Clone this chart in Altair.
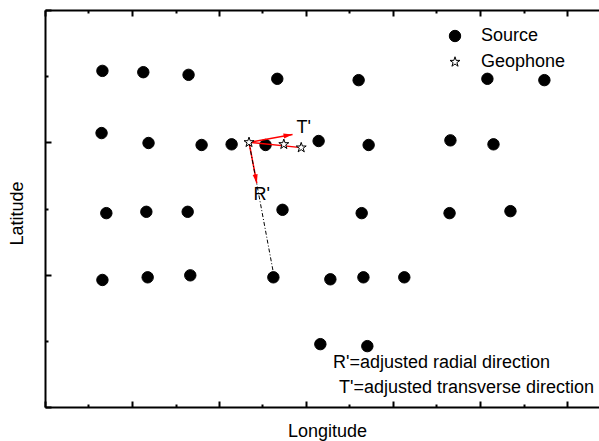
import math
import altair as alt
import pandas as pd

# ---------------- data ----------------
src_lon = [1.32, 2.26, 3.30, 5.34, 7.21, 10.17, 11.48,
           1.30, 2.38, 3.60, 4.29, 5.07, 6.29, 7.44, 9.32, 10.31,
           1.41, 2.33, 3.28, 5.46, 7.28, 9.30, 10.70,
           1.32, 2.36, 3.34, 5.25, 6.56, 7.32, 8.26,
           6.33, 7.41]
src_lat = [5.08, 5.06, 5.02, 4.96, 4.94, 4.96, 4.94,
           4.14, 3.99, 3.96, 3.97, 3.96, 4.02, 3.96, 4.03, 3.97,
           2.93, 2.95, 2.95, 2.98, 2.93, 2.93, 2.96,
           1.92, 1.96, 1.99, 1.96, 1.93, 1.96, 1.96,
           0.95, 0.92]
geo_lon = [4.69, 5.49, 5.89]
geo_lat = [4.00, 3.97, 3.92]

# red direction segments (start -> end)
red_x = [4.69, 4.69, 4.69]
red_y = [4.00, 4.00, 4.00]
red_x2 = [5.69, 5.89, 4.87]
red_y2 = [4.12, 3.92, 3.38]
red_head = [True, False, True]

# black dash-dot ray: geophone -> source
ray_x, ray_y, ray_x2, ray_y2 = [4.69], [4.00], [5.25], [2.03]

dir_labels = ["T'", "R'"]
dir_lon = [5.95, 4.98]
dir_lat = [4.21, 3.20]

notes = ["R'=adjusted radial direction", "T'=adjusted transverse direction"]
note_lon = [6.62, 6.76]
note_lat = [0.665, 0.29]

kinds = ["Source", "Geophone"]

x_major = [0, 2, 4, 6, 8, 10, 12]
x_minor = [1, 3, 5, 7, 9, 11]
y_major = [0, 2, 4, 6]
y_minor = [1, 3, 5]

# ---------------- layout ----------------
W, H = 554, 397
PX_X = 43.5
XMAX = W / PX_X
YMAX = 6
PX_Y = H / YMAX
FONT = "Liberation Sans"
FS = 18

STAR = ("M0,-1L0.2245,-0.309L0.951,-0.309L0.363,0.118L0.588,0.809L0,0.382"
        "L-0.588,0.809L-0.363,0.118L-0.951,-0.309L-0.2245,-0.309Z")
HEAD = "M0,0L-3.6,-1L-3.6,1Z"

xs = alt.Scale(domain=[0, XMAX], nice=False, zero=False)
ys = alt.Scale(domain=[0, YMAX], nice=False, zero=False)
shape_scale = alt.Scale(domain=kinds, range=["circle", STAR])
fill_scale = alt.Scale(domain=kinds, range=["black", "white"])
stroke_scale = alt.Scale(domain=kinds, range=["black", "black"])
size_scale = alt.Scale(domain=kinds, range=[130, 110])


def ax(**kw):
    base = dict(labels=False, grid=False, title=None, domain=False, ticks=False,
                tickColor="black", tickWidth=2, domainColor="black", domainWidth=2)
    base.update(kw)
    return alt.Axis(**base)


src = pd.DataFrame({"lon": src_lon, "lat": src_lat, "kind": "Source"})
geo = pd.DataFrame({"lon": geo_lon, "lat": geo_lat, "kind": "Geophone"})
red = pd.DataFrame({"x": red_x, "y": red_y, "x2": red_x2, "y2": red_y2, "head": red_head})
heads = red[red["head"]].copy()
heads["ang"] = [
    (math.degrees(math.atan2(-(b2 - b) * PX_Y, (a2 - a) * PX_X)) + 360) % 360
    for a, b, a2, b2 in zip(heads["x"], heads["y"], heads["x2"], heads["y2"])
]
ray = pd.DataFrame({"x": ray_x, "y": ray_y, "x2": ray_x2, "y2": ray_y2})
dirs = pd.DataFrame({"lon": dir_lon, "lat": dir_lat, "t": dir_labels})
nts = pd.DataFrame({"lon": note_lon, "lat": note_lat, "t": notes})

legend = alt.Legend(title=None, orient="none", legendX=401, legendY=17,
                    labelFont=FONT, labelFontSize=FS, labelColor="black",
                    symbolStrokeColor="black", symbolStrokeWidth=1,
                    labelOffset=17, rowPadding=8, padding=0)


def kind_enc():
    return dict(
        shape=alt.Shape("kind:N", scale=shape_scale, legend=legend),
        fill=alt.Fill("kind:N", scale=fill_scale, legend=legend),
        stroke=alt.Stroke("kind:N", scale=stroke_scale, legend=legend),
        size=alt.Size("kind:N", scale=size_scale, legend=legend),
    )


sources = alt.Chart(src).mark_point(filled=True, strokeWidth=1, opacity=1).encode(
    x=alt.X("lon:Q", scale=xs, axis=ax(orient="bottom", domain=True,
                                       title="Longitude", titleFont=FONT,
                                       titleFontSize=FS, titleFontWeight="normal",
                                       titleColor="black", titleX=282, titleY=15,
                                       titleBaseline="top")),
    y=alt.Y("lat:Q", scale=ys, axis=ax(orient="left", domain=True,
                                       title="Latitude", titleFont=FONT,
                                       titleFontSize=FS, titleFontWeight="normal",
                                       titleColor="black", titleX=-19,
                                       titleY=203)),
    **kind_enc(),
)

red_lines = alt.Chart(red).mark_rule(color="#ff0000", strokeWidth=1.5).encode(
    x=alt.X("x:Q", scale=xs, axis=ax(orient="top", offset=-H, ticks=True,
                                     values=x_major, tickSize=6)),
    y=alt.Y("y:Q", scale=ys, axis=ax(orient="right", offset=-W, ticks=True,
                                     values=y_major, tickSize=6)),
    x2="x2:Q", y2="y2:Q",
)

ray_line = alt.Chart(ray).mark_rule(color="black", strokeWidth=1,
                                    strokeDash=[4, 2, 1, 2]).encode(
    x=alt.X("x:Q", scale=xs, axis=ax(orient="top", offset=-H, ticks=True,
                                     values=x_minor, tickSize=3)),
    y=alt.Y("y:Q", scale=ys, axis=ax(orient="right", offset=-W, ticks=True,
                                     values=y_minor, tickSize=3)),
    x2="x2:Q", y2="y2:Q",
)

arrow_heads = alt.Chart(heads).mark_point(shape=HEAD, filled=True, color="#ff0000",
                                          size=25, opacity=1).encode(
    x=alt.X("x2:Q", scale=xs, axis=ax(orient="bottom", offset=-H, domain=True,
                                      ticks=True, values=x_major, tickSize=6)),
    y=alt.Y("y2:Q", scale=ys, axis=None),
    angle=alt.Angle("ang:Q", scale=None),
)

dir_text = alt.Chart(dirs).mark_text(font=FONT, fontSize=FS, color="black").encode(
    x=alt.X("lon:Q", scale=xs, axis=ax(orient="bottom", offset=-H, ticks=True,
                                       values=x_minor, tickSize=3)),
    y=alt.Y("lat:Q", scale=ys, axis=None),
    text="t:N",
)

geophones = alt.Chart(geo).mark_point(filled=True, strokeWidth=1, opacity=1).encode(
    x=alt.X("lon:Q", scale=xs, axis=None),
    y=alt.Y("lat:Q", scale=ys, axis=None),
    **kind_enc(),
)

note_text = alt.Chart(nts).mark_text(font=FONT, fontSize=FS, color="black",
                                     align="left").encode(
    x=alt.X("lon:Q", scale=xs, axis=None),
    y=alt.Y("lat:Q", scale=ys, axis=None),
    text="t:N",
)

chart = alt.layer(
    sources, red_lines, ray_line, arrow_heads, dir_text, geophones, note_text
).resolve_axis(x="independent", y="independent").properties(
    width=W, height=H,
    padding={"left": 45, "top": 10, "right": 0, "bottom": 34},
    autosize=alt.AutoSizeParams(type="none"),
    background="white",
).configure_view(stroke=None)

chart.save("out.html", embed_options={"renderer": "svg", "actions": False})
